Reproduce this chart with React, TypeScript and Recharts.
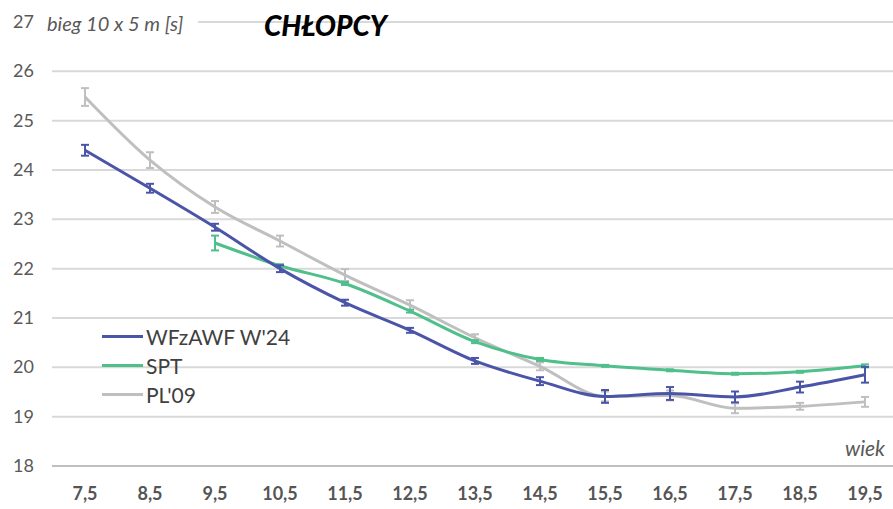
import React from "react"
import { LineChart, Line, XAxis, YAxis, CartesianGrid, ErrorBar, Legend } from "recharts"

// age groups (x axis)
const ages = ["7,5", "8,5", "9,5", "10,5", "11,5", "12,5", "13,5", "14,5", "15,5", "16,5", "17,5", "18,5", "19,5"]

// WFzAWF W'24 – means and error
const wfz = [24.4, 23.63, 22.84, 22.0, 21.31, 20.75, 20.13, 19.72, 19.41, 19.47, 19.4, 19.6, 19.85]
const wfzErr = [0.11, 0.09, 0.07, 0.07, 0.06, 0.05, 0.06, 0.08, 0.13, 0.13, 0.11, 0.11, 0.16]

// SPT
const spt = [null, null, 22.52, 22.06, 21.7, 21.14, 20.52, 20.16, 20.03, 19.94, 19.87, 19.91, 20.03]
const sptErr = [null, null, 0.15, 0.03, 0.03, 0.03, 0.03, 0.03, 0.02, 0.02, 0.02, 0.02, 0.03]

// PL'09
const pl = [25.48, 24.2, 23.25, 22.56, 21.87, 21.26, 20.6, 20.02, 19.41, 19.43, 19.17, 19.21, 19.3]
const plErr = [0.18, 0.16, 0.12, 0.11, 0.12, 0.1, 0.07, 0.08, 0.1, 0.1, 0.1, 0.07, 0.1]

const yTicks = [18, 19, 20, 21, 22, 23, 24, 25, 26, 27]

const BLUE = "#4a55a8"
const GREEN = "#4fbf8b"
const GRAY = "#bfbfbf"
const FONT = "Lato, 'Open Sans', sans-serif"

const data = ages.map((age, i) => ({
  age,
  wfz: wfz[i],
  wfzErr: wfzErr[i],
  spt: spt[i],
  sptErr: sptErr[i],
  pl: pl[i],
  plErr: plErr[i],
}))

const legendItems = [
  { name: "WFzAWF W'24", color: BLUE },
  { name: "SPT", color: GREEN },
  { name: "PL'09", color: GRAY },
]

const CustomLegend = () => (
  <div style={{ fontFamily: FONT }}>
    {legendItems.map((item) => (
      <div key={item.name} style={{ display: "flex", alignItems: "center", height: 29 }}>
        <div style={{ width: 41, height: 3, background: item.color, marginRight: 3 }} />
        <span style={{ fontSize: 21, color: "#404040" }}>{item.name}</span>
      </div>
    ))}
  </div>
)

const YTick = ({ x, y, payload }) => (
  <text x={34} y={y} dy={6} textAnchor="end" fontSize={18} fill="#595959" fontFamily={FONT}>
    {payload.value}
  </text>
)

const XTick = ({ x, y, payload }) => (
  <text x={x} y={500} textAnchor="middle" fontSize={18} fontWeight="bold" fill="#555555" fontFamily={FONT}>
    {payload.value}
  </text>
)

export default function App() {
  return (
    <div style={{ position: "absolute", left: 0, top: 0, width: 893, height: 509, overflow: "hidden", background: "#fff" }}>
      <LineChart width={898} height={509} data={data} margin={{ top: 22, right: 0, left: 0, bottom: 0 }}>
        <CartesianGrid horizontal vertical={false} stroke="#d9d9d9" strokeWidth={2} />
        <XAxis
          dataKey="age"
          axisLine={{ stroke: "#bfbfbf", strokeWidth: 2 }}
          tickLine={false}
          height={43}
          tick={<XTick />}
          interval={0}
          padding={{ left: 33, right: 33 }}
        />
        <YAxis
          domain={[18, 27]}
          ticks={yTicks}
          width={52}
          axisLine={false}
          tickLine={false}
          tick={<YTick />}
        />
        <Legend
          layout="horizontal"
          verticalAlign="middle"
          align="center"
          content={<CustomLegend />}
          wrapperStyle={{ position: "absolute", left: 102, top: 322, width: 220 }}
        />
        <Line dataKey="pl" stroke={GRAY} strokeWidth={3} type="monotone" dot={false} isAnimationActive={false}>
          <ErrorBar dataKey="plErr" width={4} stroke={GRAY} strokeWidth={2} direction="y" />
        </Line>
        <Line dataKey="spt" stroke={GREEN} strokeWidth={3} type="monotone" dot={false} isAnimationActive={false}>
          <ErrorBar dataKey="sptErr" width={4} stroke={GREEN} strokeWidth={2} direction="y" />
        </Line>
        <Line dataKey="wfz" stroke={BLUE} strokeWidth={3} type="monotone" dot={false} isAnimationActive={false}>
          <ErrorBar dataKey="wfzErr" width={4} stroke={BLUE} strokeWidth={2} direction="y" />
        </Line>
      </LineChart>
      {/* axis captions and title */}
      <div
        style={{
          position: "absolute",
          left: 40,
          top: 9,
          width: 158,
          height: 28,
          background: "#fff",
          fontFamily: FONT,
          fontStyle: "italic",
          fontSize: 20,
          color: "#595959",
          paddingLeft: 7,
          boxSizing: "border-box",
          lineHeight: "28px",
          whiteSpace: "nowrap",
        }}
      >
        bieg 10 x 5 m [s]
      </div>
      <div
        style={{
          position: "absolute",
          left: 264,
          top: 8,
          fontFamily: FONT,
          fontStyle: "italic",
          fontWeight: 900,
          fontSize: 28,
          color: "#000",
          lineHeight: "34px",
        }}
      >
        CHŁOPCY
      </div>
      <div
        style={{
          position: "absolute",
          right: 8,
          top: 435,
          fontFamily: FONT,
          fontStyle: "italic",
          fontSize: 21,
          color: "#595959",
          lineHeight: "26px",
        }}
      >
        wiek
      </div>
    </div>
  )
}
